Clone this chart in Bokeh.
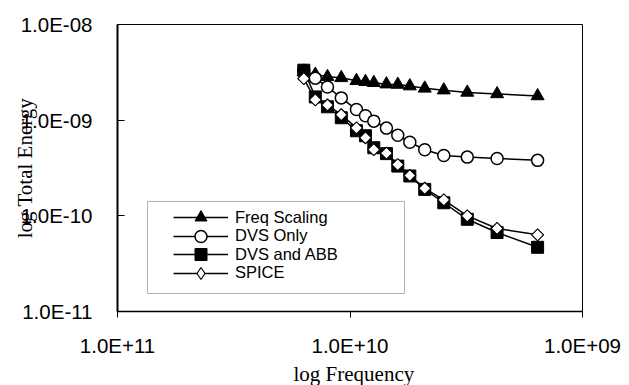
import math
from bokeh.plotting import figure
from bokeh.models import (Range1d, FixedTicker, CustomJSTickFormatter, Legend, LegendItem,
                          Title, BoxAnnotation)
from bokeh.embed import file_html
from bokeh.resources import INLINE

# ---- data ----
freq = [1.58e10, 1.41e10, 1.25e10, 1.09e10, 9.38e9, 8.58e9, 7.90e9, 6.97e9,
        6.23e9, 5.53e9, 4.77e9, 3.95e9, 3.13e9, 2.33e9, 1.56e9]
freq_scaling = [3.20e-9, 3.00e-9, 2.84e-9, 2.77e-9, 2.58e-9, 2.52e-9, 2.46e-9, 2.38e-9,
                2.36e-9, 2.27e-9, 2.15e-9, 2.06e-9, 1.95e-9, 1.88e-9, 1.79e-9]
dvs_only = [3.30e-9, 2.75e-9, 2.22e-9, 1.71e-9, 1.29e-9, 1.11e-9, 9.77e-10, 8.26e-10,
            6.95e-10, 5.88e-10, 4.91e-10, 4.27e-10, 4.11e-10, 3.98e-10, 3.80e-10]
dvs_abb = [3.33e-9, 1.75e-9, 1.38e-9, 1.06e-9, 7.75e-10, 6.87e-10, 5.15e-10, 4.47e-10,
           3.31e-10, 2.61e-10, 1.89e-10, 1.37e-10, 9.2e-11, 6.7e-11, 4.69e-11]
spice = [2.72e-9, 1.63e-9, 1.44e-9, 1.14e-9, 8.3e-10, 6.55e-10, 4.92e-10, 4.52e-10,
         3.43e-10, 2.64e-10, 1.94e-10, 1.47e-10, 1.0e-10, 7.38e-11, 6.33e-11]
series_names = ["Freq Scaling", "DVS Only", "DVS and ABB", "SPICE"]
x_ticks = [1e11, 1e10, 1e9]
y_ticks = [1e-11, 1e-10, 1e-9, 1e-8]
x_title = "log Frequency"
y_title = "log Total Energy"

p = figure(width=629, height=385, x_axis_type="log", y_axis_type="log",
           x_range=Range1d(1e11, 1e9), y_range=Range1d(1e-11, 1e-8),
           output_backend="svg", toolbar_location=None,
           min_border_left=117, min_border_right=47, min_border_top=24, min_border_bottom=72)
p.background_fill_color = "white"
p.border_fill_color = "white"
p.outline_line_color = "black"
p.outline_line_width = 1
p.xgrid.visible = False
p.ygrid.visible = False

fmt = CustomJSTickFormatter(code="""
const e = Math.round(Math.log10(tick));
const s = e < 0 ? '-' : '+';
const a = Math.abs(e);
return '1.0E' + s + (a < 10 ? '0' + a : '' + a);
""")

for ax in (p.xaxis[0], p.yaxis[0]):
    ax.formatter = fmt
    ax.major_label_text_font = "Liberation Sans"
    ax.major_label_text_font_size = "20.5px"
    ax.major_label_text_color = "black"
    ax.axis_line_color = "black"
    ax.major_tick_line_color = "black"
    ax.minor_tick_line_color = None

p.xaxis[0].ticker = FixedTicker(ticks=x_ticks, minor_ticks=[])
p.yaxis[0].ticker = FixedTicker(ticks=y_ticks, minor_ticks=[])
p.xaxis[0].major_tick_in = 0
p.xaxis[0].major_tick_out = 6
p.xaxis[0].major_label_standoff = 16
p.xaxis[0].axis_line_width = 1.5
p.yaxis[0].major_tick_in = 7
p.yaxis[0].major_tick_out = 0
p.yaxis[0].major_label_standoff = 25
p.yaxis[0].axis_line_width = 2

# y axis title overlapping the tick labels, as in the reference
p.yaxis[0].axis_label = y_title
p.yaxis[0].axis_label_text_font = "Liberation Serif"
p.yaxis[0].axis_label_text_font_size = "21px"
p.yaxis[0].axis_label_text_font_style = "normal"
p.yaxis[0].axis_label_text_color = "black"
p.yaxis[0].axis_label_standoff = -19

lw = 1.5
r1 = p.line(freq, freq_scaling, line_color="black", line_width=lw)
m1 = p.scatter(freq, freq_scaling, marker="triangle", size=13, fill_color="black",
               line_color="black", line_width=1)
r2 = p.line(freq, dvs_only, line_color="black", line_width=lw)
m2 = p.scatter(freq, dvs_only, marker="circle", size=12, fill_color="white",
               line_color="black", line_width=1.5)
r3 = p.line(freq, dvs_abb, line_color="black", line_width=lw)
m3 = p.scatter(freq, dvs_abb, marker="square", size=12, fill_color="black",
               line_color="black", line_width=1)
r4 = p.line(freq, spice, line_color="black", line_width=lw)
m4 = p.scatter(freq, spice, marker="square", angle=math.pi / 4, size=8.5,
               fill_color="white", line_color="black", line_width=1.2)
# legend-only key for the diamond (legend glyphs are drawn unrotated)
m4_key = p.scatter(freq, spice, marker="diamond", size=12, visible=False,
                   fill_color="white", line_color="black", line_width=1.2)

# legend box
box = BoxAnnotation(left=30, right=287, top=110, bottom=18,
                    left_units="screen", right_units="screen",
                    top_units="screen", bottom_units="screen",
                    fill_color="white", fill_alpha=1, line_color="black", line_width=1)
p.add_layout(box)

entries = [(series_names[0], [r1, m1], 79),
           (series_names[1], [r2, m2], 60.5),
           (series_names[2], [r3, m3], 42),
           (series_names[3], [r4, m4_key], 23.5)]
for name, rends, yb in entries:
    lg = Legend(items=[LegendItem(label=name, renderers=rends)],
                location=(56, yb), padding=0, margin=0, spacing=0,
                glyph_width=55, glyph_height=30, label_height=30, label_standoff=7,
                label_text_font="Liberation Sans", label_text_font_size="16.5px",
                label_text_color="black", border_line_color=None,
                background_fill_alpha=0, inactive_fill_alpha=0)
    p.add_layout(lg, "center")

xt = Title(text=x_title, align="left", offset=176, standoff=0,
           text_font="Liberation Serif", text_font_size="21px", text_font_style="normal",
           text_color="black")
p.add_layout(xt, "below")

open("out.html", "w").write(file_html(p, INLINE))
